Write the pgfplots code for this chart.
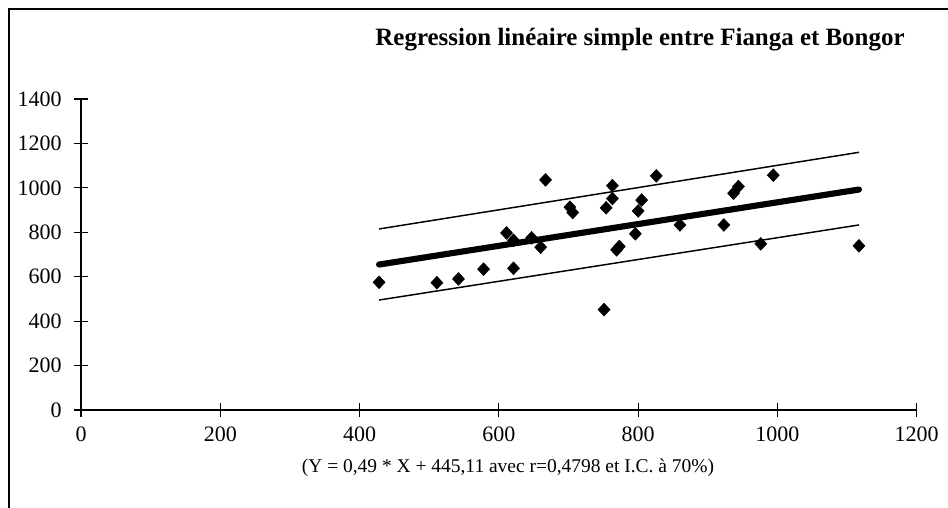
\documentclass[border=0pt]{standalone}
\usepackage{pgfplots}
\pgfplotsset{compat=1.18}
\usepackage{fontspec}
\setmainfont{Liberation Serif}
\begin{document}
\begin{tikzpicture}[x=0.75pt,y=0.75pt]
\useasboundingbox (0,0) rectangle (948,507);
\draw[line width=1.6pt] (9,-20) -- (9,498) -- (970,498);
\node[font=\bfseries\fontsize{18.7}{22}\selectfont] at (640,467) {Regression linéaire simple entre Fianga et Bongor};
\node[font=\fontsize{14.6}{17}\selectfont] at (508,39) {(Y = 0,49 * X + 445,11 avec r=0,4798 et I.C. à 70\%)};
\begin{axis}[
  at={(60.75pt,72.75pt)}, anchor=origin,
  scale only axis, width=626.8pt, height=233.25pt,
  xmin=0, xmax=1200, ymin=0, ymax=1400,
  axis x line=bottom, axis y line=left,
  axis line style={-, line width=0.8pt},
  xtick={0,200,...,1200}, ytick={0,200,...,1400},
  tick align=center, major tick length=10pt,
  tick style={line width=0.8pt, black},
  ticklabel style={font=\fontsize{16.5}{18}\selectfont},
  /pgf/number format/assume math mode=true,
  /pgf/number format/1000 sep={},
  xticklabel style={yshift=-4pt},
  yticklabel style={xshift=-6pt},
  clip=false,
]
\addplot[only marks, mark=diamond*, mark size=4.8pt, mark options={xscale=1.25, fill=black, draw=black}] coordinates {
(428,575) (511,573) (542,590) (578,634) (611,797) (621,638) (621,764)
(647,775) (660,733) (667,1036) (702,913) (706,889) (751,452) (754,910)
(763,1010) (763,952) (769,721) (773,736) (796,793) (800,896) (805,945)
(826,1054) (860,833) (923,833) (937,976) (944,1006) (976,748) (994,1057)
(1117,739)
};
\addplot[black, line width=4.6pt, line cap=round] coordinates {(428,654.8) (1117,992.4)};
\addplot[black, line width=1.1pt] coordinates {(428,815) (1117,1160)};
\addplot[black, line width=1.1pt] coordinates {(428,495) (1117,833)};
\end{axis}
\end{tikzpicture}
\end{document}
